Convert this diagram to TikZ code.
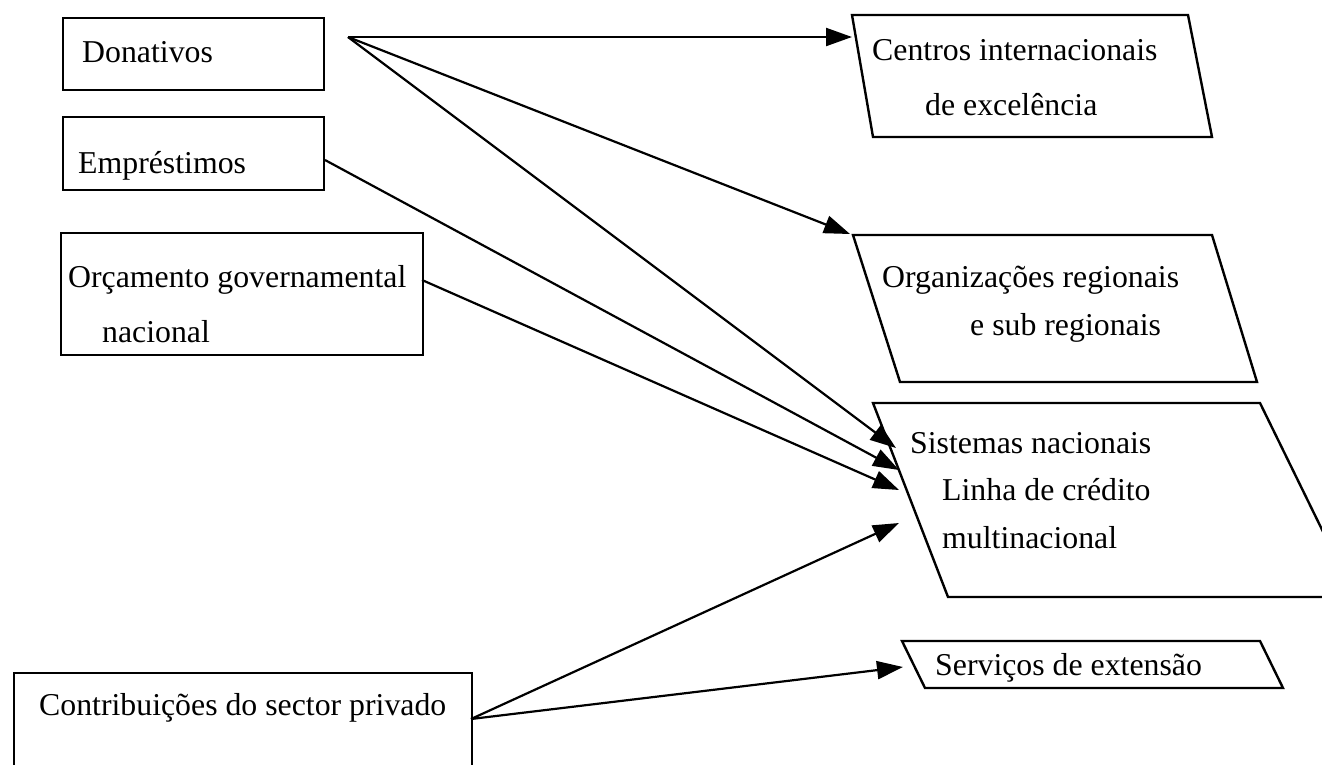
\documentclass[tikz,border=0pt]{standalone}
\usepackage{fontspec}
\setmainfont{Liberation Serif}
\usetikzlibrary{arrows.meta}
\begin{document}
\begin{tikzpicture}[x=1pt,y=-1pt,
  box/.style={draw, line width=2.4pt, inner sep=0pt, anchor=north west},
  lbl/.style={anchor=base west, inner sep=0pt, font=\fontsize{31.8}{38}\selectfont},
  arr/.style={line width=2.2pt, -{Triangle[length=26pt,width=18pt]}},
  shp/.style={draw, line width=2.4pt, line join=miter}]
\useasboundingbox (0,0) rectangle (1322,764);
\clip (0,0) rectangle (1322,764);

% source boxes
\node[box, minimum width=261pt, minimum height=72pt] (don) at (62,17) {};
\node[box, minimum width=261pt, minimum height=73pt] (emp) at (62,116) {};
\node[box, minimum width=362pt, minimum height=122pt] (orc) at (60,232) {};
\node[box, minimum width=458pt, minimum height=140pt] (con) at (13,672) {};

\node[lbl] (tdon) at (82,62) {Donativos};
\node[lbl] (temp) at (78,173) {Empréstimos};
\node[lbl] (torc1) at (68,287) {Orçamento governamental};
\node[lbl] (torc2) at (102,342) {nacional};
\node[lbl] (tcon) at (39,715) {Contribuições do sector privado};

% target parallelograms
\draw[shp] (852,15) -- (1188,15) -- (1212,137) -- (873,137) -- cycle;
\draw[shp] (853,235) -- (1212,235) -- (1257,382) -- (900,382) -- cycle;
\draw[shp] (873,403) -- (1260,403) -- (1355,597) -- (948,597) -- cycle;
\draw[shp] (902,641) -- (1260,641) -- (1283,688) -- (925,688) -- cycle;

\node[lbl] (tcen1) at (872,60) {Centros internacionais};
\node[lbl] (tcen2) at (925,115) {de excelência};
\node[lbl] (torg1) at (882,287) {Organizações regionais};
\node[lbl] (torg2) at (970,335) {e sub regionais};
\node[lbl] (tsis1) at (910,453) {Sistemas nacionais};
\node[lbl] (tsis2) at (942,500) {Linha de crédito};
\node[lbl] (tsis3) at (942,548) {multinacional};
\node[lbl] (tser) at (935,675) {Serviços de extensão};

% connector end points
\coordinate (sdon) at (348,37);
\coordinate (semp) at (325,160);
\coordinate (sorc) at (422,280);
\coordinate (scon) at (471,719);
\coordinate (ecen) at (852,37);
\coordinate (eorg) at (850,234);
\coordinate (esis1) at (896,448);
\coordinate (esis2) at (899,470);
\coordinate (esis3) at (899,490);
\coordinate (esis4) at (899,523);
\coordinate (eser) at (903,667);

\draw[arr] (sdon) -- (ecen);
\draw[arr] (sdon) -- (eorg);
\draw[arr] (sdon) -- (esis1);
\draw[arr] (semp) -- (esis2);
\draw[arr] (sorc) -- (esis3);
\draw[arr] (scon) -- (esis4);
\draw[arr] (scon) -- (eser);
\end{tikzpicture}
\end{document}
